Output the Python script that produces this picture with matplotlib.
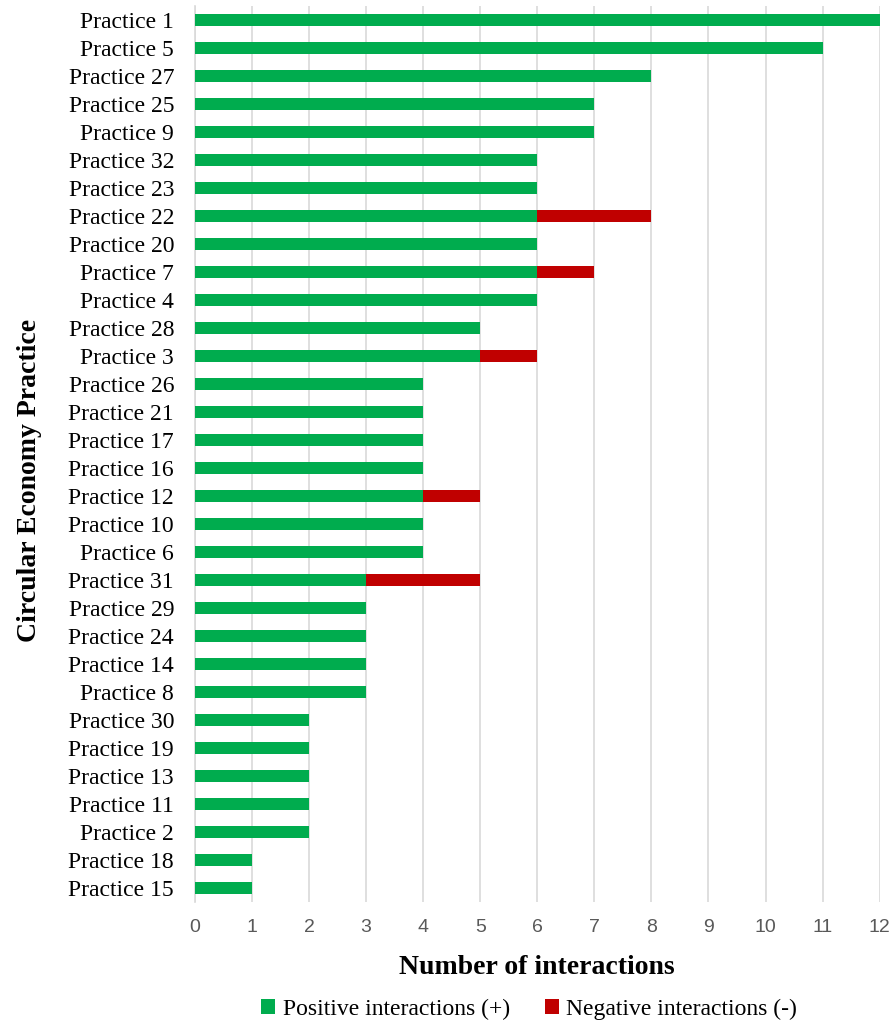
import matplotlib
matplotlib.use("Agg")
import matplotlib.pyplot as plt
import numpy as np

practices = ["Practice 1", "Practice 5", "Practice 27", "Practice 25", "Practice 9",
             "Practice 32", "Practice 23", "Practice 22", "Practice 20", "Practice 7",
             "Practice 4", "Practice 28", "Practice 3", "Practice 26", "Practice 21",
             "Practice 17", "Practice 16", "Practice 12", "Practice 10", "Practice 6",
             "Practice 31", "Practice 29", "Practice 24", "Practice 14", "Practice 8",
             "Practice 30", "Practice 19", "Practice 13", "Practice 11", "Practice 2",
             "Practice 18", "Practice 15"]
positive = [12, 11, 8, 7, 7, 6, 6, 6, 6, 6, 6, 5, 5, 4, 4, 4, 4, 4, 4, 4,
            3, 3, 3, 3, 3, 2, 2, 2, 2, 2, 1, 1]
negative = [0, 0, 0, 0, 0, 0, 0, 2, 0, 1, 0, 0, 1, 0, 0, 0, 0, 1, 0, 0,
            2, 0, 0, 0, 0, 0, 0, 0, 0, 0, 0, 0]
x_ticks = list(range(0, 13))

GREEN = "#00ac4e"
RED = "#c00000"
GRID = "#d9d9d9"

fig = plt.figure(figsize=(8.94, 10.23), dpi=100)
ax = fig.add_axes([0.218, 0.118, 0.766, 0.876])

y = np.arange(len(practices))
h = 0.43
ax.barh(y, positive, height=h, color=GREEN, label="Positive interactions (+)", zorder=3)
ax.barh(y, negative, left=positive, height=h, color=RED, label="Negative interactions (-)", zorder=3)

ax.set_ylim(len(practices) - 0.5, -0.5)
ax.set_xlim(0, 12)
ax.set_yticks(y)
ax.set_yticklabels(practices, fontfamily="Liberation Serif", fontsize=17, color="black")
ax.set_xticks(x_ticks)
ax.set_xticklabels([str(t) for t in x_ticks], fontfamily="Liberation Sans", fontsize=14, color="#595959")
ax.tick_params(axis="both", length=0)
ax.tick_params(axis="x", pad=12)
ax.tick_params(axis="y", pad=15)

ax.grid(axis="x", color=GRID, linewidth=1.2, zorder=0)
for s in ["top", "right", "bottom"]:
    ax.spines[s].set_visible(False)
ax.spines["left"].set_color(GRID)
ax.spines["left"].set_linewidth(1.2)

ax.set_xlabel("Number of interactions", fontfamily="Liberation Serif", fontsize=20,
              fontweight="bold", labelpad=14)
ax.set_ylabel("Circular Economy Practice", fontfamily="Liberation Serif", fontsize=20,
              fontweight="bold")
ax.yaxis.set_label_coords(-0.223, 0.471)

fig.legend(loc="lower center", bbox_to_anchor=(0.592, -0.018), ncol=2, frameon=False,
           prop={"family": "Liberation Serif", "size": 17}, handlelength=0.6,
           handleheight=0.6, handletextpad=0.3, columnspacing=1.5)

fig.savefig("out.png", dpi=100)
